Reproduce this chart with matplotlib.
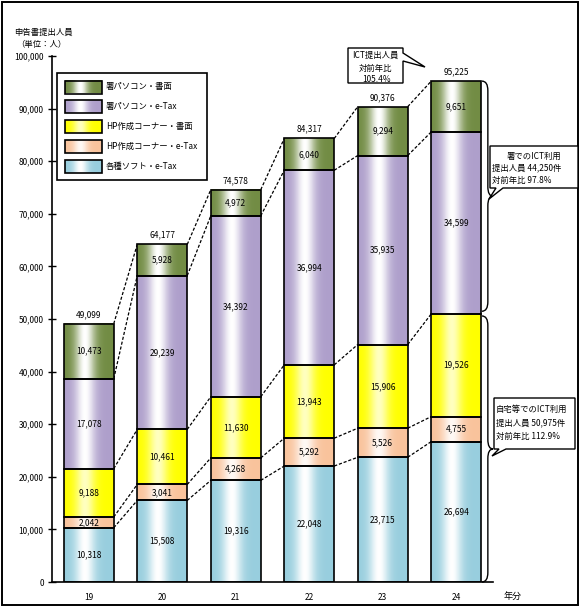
import numpy as np
import matplotlib
matplotlib.use("Agg")
import matplotlib.pyplot as plt
from matplotlib.patches import Rectangle, Polygon, PathPatch
from matplotlib.path import Path
from matplotlib.colors import to_rgb

plt.rcParams['font.family'] = ['Noto Sans CJK JP', 'DejaVu Sans']

# data (bottom -> top)
years = ['19', '20', '21', '22', '23', '24']
soft_etax = [10318, 15508, 19316, 22048, 23715, 26694]   # 各種ソフト・e-Tax
hp_etax = [2042, 3041, 4268, 5292, 5526, 4755]           # HP作成コーナー・e-Tax
hp_paper = [9188, 10461, 11630, 13943, 15906, 19526]     # HP作成コーナー・書面
pc_etax = [17078, 29239, 34392, 36994, 35935, 34599]     # 署パソコン・e-Tax
pc_paper = [10473, 5928, 4972, 6040, 9294, 9651]         # 署パソコン・書面
totals = [49099, 64177, 74578, 84317, 90376, 95225]

series = [soft_etax, hp_etax, hp_paper, pc_etax, pc_paper]
names = ['各種ソフト・e-Tax', 'HP作成コーナー・e-Tax', 'HP作成コーナー・書面',
         '署パソコン・e-Tax', '署パソコン・書面']
colors = ['#98CEDE', '#F9C39C', '#FFFF00', '#AE9FCB', '#728C44']
whites = [1.0, 0.9, 0.75, 1.0, 1.0]

y_ticks = np.arange(0, 100001, 10000)


def gradient(color, amount, n=64):
    # horizontal cylinder-like shading: colour at the edges, white near the middle
    t = np.linspace(0, 1, n)
    a = amount * np.exp(-((t - 0.42) / 0.2) ** 2)
    c = np.array(to_rgb(color))
    rgb = c[None, :] * (1 - a[:, None]) + a[:, None]
    return rgb[None, :, :]


W, H = 580, 607
fig = plt.figure(figsize=(W / 100, H / 100), dpi=100)
ax = fig.add_axes([52 / W, (H - 582) / H, 441 / W, 526 / H])

x = np.arange(len(years))
bw = 0.68
bottoms = np.zeros(len(years))
for vals, col, wh in zip(series, colors, whites):
    grad = gradient(col, wh)
    for i, v in enumerate(vals):
        b = bottoms[i]
        ax.imshow(grad, extent=(x[i] - bw / 2, x[i] + bw / 2, b, b + v),
                  aspect='auto', interpolation='bilinear', zorder=2)
        ax.add_patch(Rectangle((x[i] - bw / 2, b), bw, v, fill=False,
                               edgecolor='black', lw=1.2, zorder=3))
        ax.text(x[i], b + v / 2, f"{v:,}", ha='center', va='center',
                fontsize=6, zorder=4)
    bottoms = bottoms + np.array(vals)

# dashed connectors between bars
levels = np.cumsum(np.array(series), axis=0)
for lev in levels:
    for i in range(len(years) - 1):
        ax.plot([x[i] + bw / 2, x[i + 1] - bw / 2], [lev[i], lev[i + 1]],
                color='black', lw=0.9, ls=(0, (2.5, 1.5)), zorder=1)

for i, t in enumerate(totals):
    ax.text(x[i], t + 900, f"{t:,}", ha='center', va='bottom', fontsize=6)


def brace(y_bot, y_top, x0=5.35, x1=5.43, x2=5.5, r=1800):
    ym = (y_bot + y_top) / 2
    verts = [(x0, y_top), (x1, y_top), (x1, y_top - r),
             (x1, ym + r), (x1, ym), (x2, ym),
             (x1, ym), (x1, ym - r),
             (x1, y_bot + r), (x1, y_bot), (x0, y_bot)]
    codes = [Path.MOVETO, Path.CURVE3, Path.CURVE3,
             Path.LINETO, Path.CURVE3, Path.CURVE3,
             Path.CURVE3, Path.CURVE3,
             Path.LINETO, Path.CURVE3, Path.CURVE3]
    ax.add_patch(PathPatch(Path(verts, codes), fill=False, lw=1.0,
                           edgecolor='black', clip_on=False, zorder=3))


home_ict = soft_etax[-1] + hp_etax[-1] + hp_paper[-1]
brace(0, home_ict - 400)
brace(home_ict + 500, totals[-1])

ax.set_xlim(-0.5, 5.5)
ax.set_ylim(0, 100000)
ax.set_xticks(x)
ax.set_xticklabels(years)
ax.set_yticks(y_ticks)
ax.set_yticklabels([f"{v:,}" for v in y_ticks])
ax.tick_params(axis='x', length=0, pad=8, labelsize=6)
ax.tick_params(axis='y', direction='inout', length=6, width=1, pad=3, labelsize=6)
for s in ['top', 'right']:
    ax.spines[s].set_visible(False)
for s in ['left', 'bottom']:
    ax.spines[s].set_linewidth(1.2)

# overlay in pixel coordinates for legend, titles, call-outs
ov = fig.add_axes([0, 0, 1, 1], zorder=5)
ov.set_xlim(0, W)
ov.set_ylim(H, 0)
ov.axis('off')

ov.add_patch(Rectangle((1.5, 1.5), W - 4, H - 4, fill=False, lw=1.4, edgecolor='black'))
ov.text(14, 32, '申告書提出人員', fontsize=6, va='center')
ov.text(16, 44, '（単位：人）', fontsize=6, va='center')
ov.text(504, 596, '年分', fontsize=6.5, va='center')

# legend
ov.add_patch(Rectangle((57, 73), 150, 107, facecolor='white', edgecolor='black', lw=1.2))
for k, idx in enumerate([4, 3, 2, 1, 0]):
    yc = 87 + k * 19.8
    ov.imshow(gradient(colors[idx], whites[idx]), extent=(65, 102, yc + 6.5, yc - 6.5),
              aspect='auto', interpolation='bilinear', zorder=2)
    ov.add_patch(Rectangle((65, yc - 6.5), 37, 13, fill=False, edgecolor='black', lw=1.2, zorder=3))
    ov.text(106, yc, names[idx], fontsize=6, va='center')
ov.set_xlim(0, W)
ov.set_ylim(H, 0)


def bubble(pts):
    ov.add_patch(Polygon(pts, closed=True, facecolor='white', edgecolor='black', lw=1.0, zorder=6))


bubble([(348, 48), (403, 48), (403, 53), (425, 67), (403, 61), (403, 83), (348, 83)])
ov.text(375, 55, 'ICT提出人員', fontsize=6, ha='center', va='center', zorder=7)
ov.text(375, 68, '対前年比', fontsize=6, ha='center', va='center', zorder=7)
ov.text(377, 79, '105.4%', fontsize=6, ha='center', va='center', zorder=7)

bubble([(490, 146), (578, 146), (578, 188), (503, 188), (489, 199), (496, 188), (490, 188)])
ov.text(534, 156, '署でのICT利用', fontsize=6, ha='center', va='center', zorder=7)
ov.text(492, 168, '提出人員 44,250件', fontsize=6, va='center', zorder=7)
ov.text(492, 180, '対前年比 97.8%', fontsize=6, va='center', zorder=7)

bubble([(494, 398), (575, 398), (575, 449), (506, 449), (492, 456), (499, 449), (494, 449)])
ov.text(496, 409, '自宅等でのICT利用', fontsize=6, va='center', zorder=7)
ov.text(496, 423, '提出人員 50,975件', fontsize=6, va='center', zorder=7)
ov.text(496, 437, '対前年比 112.9%', fontsize=6, va='center', zorder=7)

fig.savefig('out.png', dpi=100)
